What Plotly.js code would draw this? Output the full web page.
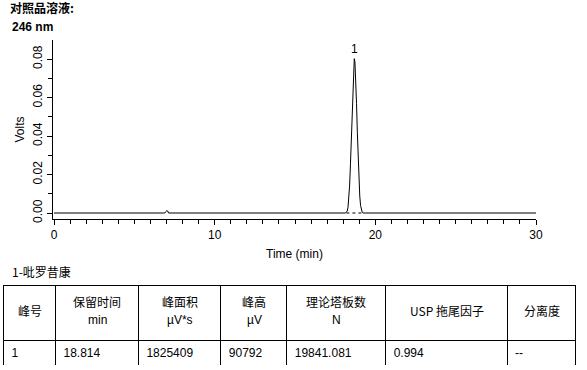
<!DOCTYPE html>
<html><head><meta charset="utf-8">
<script src="https://cdn.plot.ly/plotly-3.0.1.min.js"></script>
<style>body{margin:0;padding:0;background:#fff}#chart{width:587px;height:370px}</style>
</head><body><div id="chart"></div>
<script>
// Chromatogram (time in min, signal in volts)
const timeMin = [0, 6.9, 6.97, 7.02, 7.08, 7.13, 18.15, 18.2, 18.25, 18.3, 18.35, 18.4, 18.45, 18.5, 18.55, 18.6, 18.65, 18.69, 18.73, 18.78, 18.83, 18.88, 18.93, 18.98, 19.03, 19.08, 19.13, 19.18, 19.23, 30];
const volts   = [0, 0, 0.0008, 0.0012, 0.0010, 0, 0, 0.0003, 0.0010, 0.0030, 0.0072, 0.0145, 0.0250, 0.0385, 0.0535, 0.0670, 0.0770, 0.0802, 0.0785, 0.0700, 0.0570, 0.0420, 0.0280, 0.0165, 0.0088, 0.0040, 0.0015, 0.0004, 0, 0];
// integration baseline under the peak
const baseTime = [18.2, 19.2];
const baseVolts = [0, 0];
// peak label
const peakLabels = ['1'];
const peakTimes = [18.69];
const peakVolts = [0.0802];

// results table
const headerNames = ['峰号', '保留时间', '峰面积', '峰高', '理论塔板数', 'USP 拖尾因子', '分离度'];
const headerUnits = ['', 'min', 'µV*s', 'µV', 'N', '', ''];
const colPeakNo = ['1'];
const colRetention = ['18.814'];
const colArea = ['1825409'];
const colHeight = ['90792'];
const colPlates = ['19841.081'];
const colTailing = ['0.994'];
const colResolution = ['--'];
const colWidths = [52, 83, 82.5, 66, 99, 121.5, 68.5];

const W = 587, H = 370;
const tableLeft = 3.5, tableRight = 576, tableTop = 285, tableBottom = 365;
const traces = [
  {type:'scatter', mode:'lines', x: timeMin, y: volts, line:{color:'#000', width:1}, hoverinfo:'skip'},
  {type:'scatter', mode:'lines', x: baseTime, y: baseVolts, line:{color:'#000', width:1, dash:'3px,3px'}, hoverinfo:'skip'},
  {type:'table', domain:{x:[tableLeft/W, tableRight/W], y:[1-tableBottom/H, 1-tableTop/H]},
   columnwidth: colWidths,
   header:{values: headerNames.map(()=>''), align:'center', height:55, line:{color:'#000', width:1}, fill:{color:'#fff'},
           font:{family:'Noto Sans CJK SC, Liberation Sans', size:12, color:'#000'}},
   cells:{values:[colPeakNo, colRetention, colArea, colHeight, colPlates, colTailing, colResolution],
          align:'left', height:25, line:{color:'#000', width:1}, fill:{color:'#fff'},
          font:{family:'Liberation Sans, Arial', size:12, color:'#000'}}}
];

const annotations = peakLabels.map((t,i)=>({x: peakTimes[i], y: peakVolts[i], xref:'x', yref:'y', text:t, showarrow:false, yanchor:'bottom', yshift:1, font:{size:12, color:'#000'}}));
annotations.push({xref:'paper', yref:'paper', x:10/W, y:1-27/H, xanchor:'left', yanchor:'middle', text:'246 nm', showarrow:false, font:{family:'Liberation Sans, Arial', size:12, weight:700, color:'#000'}});
annotations.push({xref:'paper', yref:'paper', x:10/W, y:1-271/H, xanchor:'left', yanchor:'middle', text:'1-吡罗昔康', showarrow:false, font:{family:'Noto Sans CJK SC, Liberation Sans', size:12, color:'#000'}});

// header labels, centred in each header cell
const totalW = colWidths.reduce((a,b)=>a+b,0);
const scale = (tableRight - tableLeft) / totalW;
let cum = 0;
colWidths.forEach((w,i)=>{
  const cx = tableLeft + (cum + w/2) * scale;
  cum += w;
  const hfont = {family:'Noto Sans CJK SC, Liberation Sans', size:12, color:'#000'};
  if (headerUnits[i]) {
    annotations.push({xref:'paper', yref:'paper', x:cx/W, y:1-301/H, xanchor:'center', yanchor:'middle', text:headerNames[i], showarrow:false, font:hfont});
    annotations.push({xref:'paper', yref:'paper', x:cx/W, y:1-320/H, xanchor:'center', yanchor:'middle', text:headerUnits[i], showarrow:false, font:{family:'Liberation Sans, Arial', size:12, color:'#000'}});
  } else {
    annotations.push({xref:'paper', yref:'paper', x:cx/W, y:1-310/H, xanchor:'center', yanchor:'middle', text:headerNames[i], showarrow:false, font:hfont});
  }
});

const layout = {
  width: W, height: H, margin:{l:0, r:0, t:0, b:0}, paper_bgcolor:'#fff', plot_bgcolor:'#fff', showlegend:false,
  font:{family:'Liberation Sans, Arial', size:12, color:'#000'},
  title:{text:'对照品溶液:', x:10/W, xanchor:'left', xref:'paper', y:1-9/H, yanchor:'middle', yref:'paper',
         font:{family:'Noto Sans CJK SC, Liberation Sans', size:12, weight:700, color:'#000'}},
  xaxis:{domain:[53/W, 536/W], range:[-0.062, 30], showline:true, linecolor:'#000', linewidth:1,
         ticks:'outside', ticklen:5, tickcolor:'#000', tick0:0, dtick:10, showgrid:false, zeroline:false,
         minor:{dtick:1, ticks:'outside', ticklen:4, tickcolor:'#000', showgrid:false},
         title:{text:'Time (min)', standoff:8, font:{size:12}}, fixedrange:true},
  yaxis:{domain:[1-219/H, 1-40/H], range:[-0.00312, 0.0899], showline:true, linecolor:'#000', linewidth:1,
         ticks:'outside', ticklen:5, tickcolor:'#000', tick0:0, dtick:0.02, tickformat:'.2f', tickangle:-90,
         showgrid:false, zeroline:false,
         minor:{dtick:0.01, ticks:'outside', ticklen:4, tickcolor:'#000', showgrid:false},
         title:{text:'Volts', standoff:4, font:{size:12}}, fixedrange:true},
  annotations: annotations
};
Plotly.newPlot('chart', traces, layout, {displayModeBar:false, staticPlot:true});
</script></body></html>
